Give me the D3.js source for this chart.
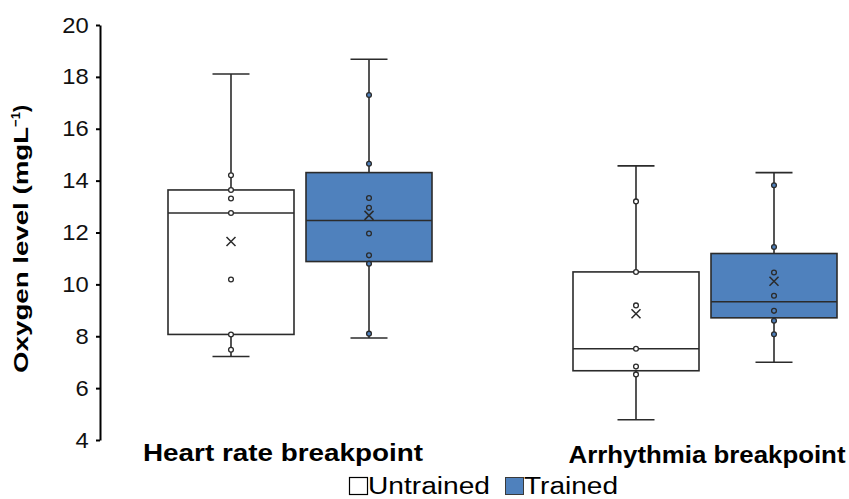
<!DOCTYPE html>
<html>
<head>
<meta charset="utf-8">
<script src="https://cdn.jsdelivr.net/npm/d3@7"></script>
<style>
  body { margin: 0; background: #fff; }
  svg { font-family: "Liberation Sans", Arial, sans-serif; }
</style>
</head>
<body>
<div id="chart"></div>
<script>
// groups and series
const groups = ["Heart rate breakpoint", "Arrhythmia breakpoint"];
const series = ["Untrained", "Trained"];
const yTicks = [4, 6, 8, 10, 12, 14, 16, 18, 20];

// box stats per group, order: Untrained, Trained
const whiskerLow  = [[7.22, 7.93], [4.78, 7.0]];
const q1          = [[8.07, 10.88], [6.67, 8.71]];
const median      = [[12.75, 12.46], [7.52, 9.33]];
const q3          = [[13.64, 14.31], [10.48, 11.19]];
const whiskerHigh = [[18.11, 18.68], [14.57, 14.31]];
const mean        = [[11.65, 12.66], [8.87, 10.12]];
const points = [
    [[14.21, 13.64, 13.31, 12.75, 10.19, 8.07, 7.48],
     [17.30, 14.65, 13.33, 12.95, 11.96, 11.12, 10.80, 8.10]],
    [[13.20, 10.48, 9.19, 7.52, 6.83, 6.53],
     [13.82, 11.44, 10.46, 9.56, 8.98, 8.60, 8.08]]
];

const width = 849, height = 499;
const stroke = "#2b2b2b";
const blue = "#4f81bd";
const fills = ["#ffffff", blue];

const svg = d3.select("#chart")
    .append("svg")
    .attr("width", width)
    .attr("height", height);

// scales
const y = d3.scaleLinear()
    .domain([4, 20])
    .range([440, 25]);

const x0 = d3.scalePoint()
    .domain(groups)
    .range([300, 705]);

const x1 = d3.scaleBand()
    .domain(series)
    .range([-132, 132])
    .paddingInner(0.087);

// y axis
const yAxis = svg.append("g")
    .attr("transform", "translate(100,0)")
    .call(d3.axisLeft(y).tickValues(yTicks).tickSize(4).tickSizeOuter(0).tickPadding(6.5));
yAxis.select(".domain").attr("stroke", "#000").attr("stroke-width", 2);
yAxis.selectAll(".tick line").attr("stroke", "#000").attr("stroke-width", 2);
yAxis.selectAll(".tick text")
    .attr("font-size", 22)
    .attr("font-family", "Liberation Sans, Arial, sans-serif")
    .attr("fill", "#111")
    .attr("transform", "scale(1.08,1)");

// axis title
const title = svg.append("text")
    .attr("transform", "translate(28,239) rotate(-90)")
    .attr("text-anchor", "middle")
    .attr("font-size", 21)
    .attr("font-weight", "bold")
    .attr("fill", "#000");
title.append("tspan").text("Oxygen level (mgL").attr("textLength", 246).attr("lengthAdjust", "spacingAndGlyphs");
title.append("tspan").text("\u22121").attr("font-size", 13).attr("dy", -8);
title.append("tspan").text(")").attr("dy", 8);

// boxes
groups.forEach((g, gi) => {
    series.forEach((s, si) => {
        const left = x0(g) + x1(s);
        const bw = x1.bandwidth();
        const cx = left + bw / 2;
        const box = svg.append("g");

        // whisker line
        box.append("line")
            .attr("x1", cx).attr("x2", cx)
            .attr("y1", y(whiskerLow[gi][si]))
            .attr("y2", y(whiskerHigh[gi][si]))
            .attr("stroke", stroke).attr("stroke-width", 1.6);

        // caps
        [whiskerLow[gi][si], whiskerHigh[gi][si]].forEach(v => {
            box.append("line")
                .attr("x1", cx - 18.5).attr("x2", cx + 18.5)
                .attr("y1", y(v)).attr("y2", y(v))
                .attr("stroke", stroke).attr("stroke-width", 1.6);
        });

        box.append("rect")
            .attr("x", left)
            .attr("y", y(q3[gi][si]))
            .attr("width", bw)
            .attr("height", y(q1[gi][si]) - y(q3[gi][si]))
            .attr("fill", fills[si])
            .attr("stroke", stroke).attr("stroke-width", 1.6);

        box.append("line")
            .attr("x1", left).attr("x2", left + bw)
            .attr("y1", y(median[gi][si])).attr("y2", y(median[gi][si]))
            .attr("stroke", stroke).attr("stroke-width", 1.6);

        box.selectAll("circle")
            .data(points[gi][si])
            .enter()
            .append("circle")
            .attr("cx", cx)
            .attr("cy", d => y(d))
            .attr("r", 2.4)
            .attr("fill", fills[si])
            .attr("stroke", stroke)
            .attr("stroke-width", 1.3);

        // mean cross
        const my = y(mean[gi][si]);
        box.append("path")
            .attr("d", `M${cx - 4.5},${my - 4.5}L${cx + 4.5},${my + 4.5}M${cx - 4.5},${my + 4.5}L${cx + 4.5},${my - 4.5}`)
            .attr("stroke", stroke).attr("stroke-width", 1.5)
            .attr("fill", "none");
    });
});

// group labels
const labelShift = [-17, 2];
const labelLen = [280, 277];
svg.selectAll(".glabel")
    .data(groups)
    .enter()
    .append("text")
    .attr("class", "glabel")
    .attr("x", (d, i) => x0(d) + labelShift[i])
    .attr("y", (d, i) => 461 + i * 2)
    .attr("text-anchor", "middle")
    .attr("font-size", 24)
    .attr("font-weight", "bold")
    .attr("fill", "#000")
    .attr("textLength", (d, i) => labelLen[i])
    .attr("lengthAdjust", "spacingAndGlyphs")
    .text(d => d);

// legend
const legendLen = [122, 94];
const legend = svg.append("g").attr("transform", "translate(349,477)");
let lx = 0;
series.forEach((s, si) => {
    legend.append("rect")
        .attr("x", lx + 0.5).attr("y", 0.5)
        .attr("width", 18).attr("height", 17)
        .attr("fill", fills[si])
        .attr("stroke", si === 0 ? "#000" : "#3a3a3a")
        .attr("stroke-width", si === 0 ? 1.2 : 1);
    legend.append("text")
        .attr("x", lx + 19)
        .attr("y", 17)
        .attr("font-size", 23)
        .attr("fill", "#000")
        .attr("textLength", legendLen[si])
        .attr("lengthAdjust", "spacingAndGlyphs")
        .text(s);
    lx += 19 + legendLen[si] + 15;
});
</script>
</body>
</html>
